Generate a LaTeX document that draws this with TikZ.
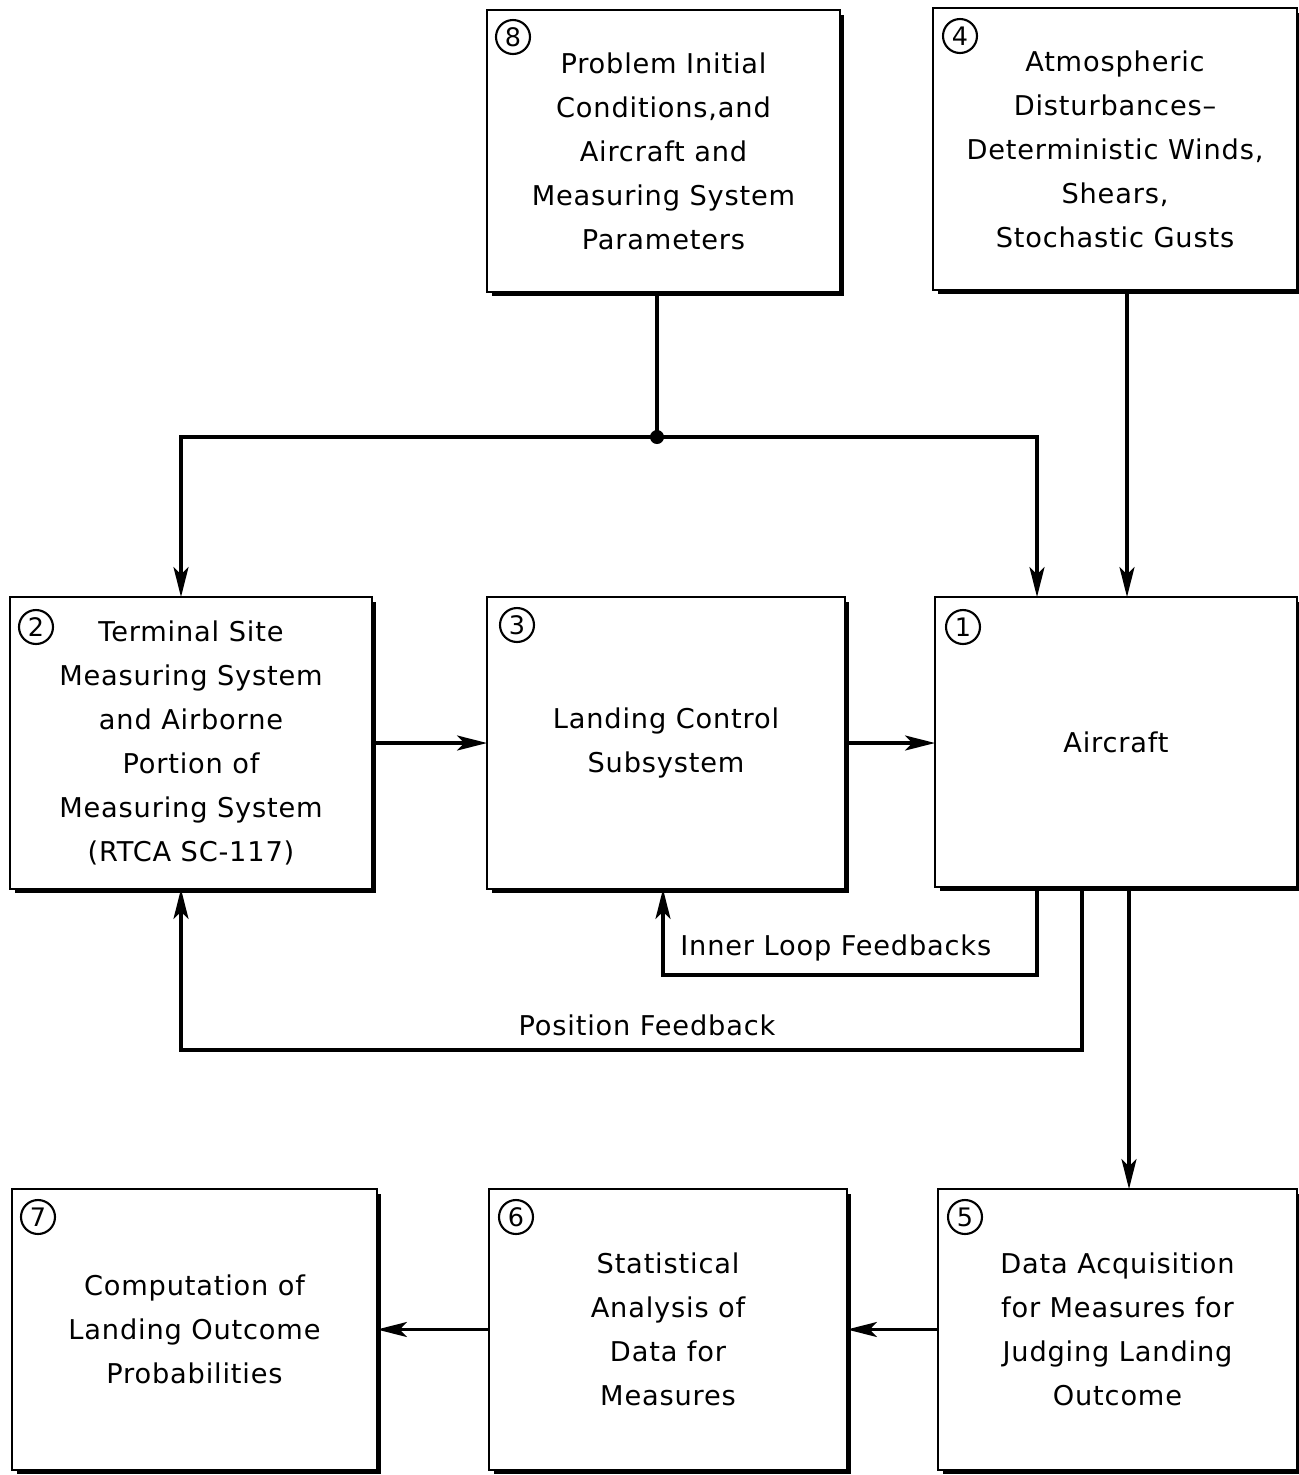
\documentclass[tikz,border=0pt]{standalone}
\usepackage{fontspec}
\setmainfont[LetterSpace=3]{DejaVu Sans}
\usetikzlibrary{arrows.meta,calc}
\begin{document}
\begin{tikzpicture}[x=0.02cm,y=-0.02cm,
  box/.style={draw,line width=1.6pt,inner sep=0pt,outer sep=0pt,align=center,
    font=\fontsize{15.5}{25}\selectfont},
  num/.style={draw,circle,line width=1.2pt,minimum size=0.68cm,inner sep=0pt,
    font=\fontsize{14.5}{14.5}\selectfont},
  lbl/.style={font=\fontsize{15.5}{25}\selectfont,inner sep=0pt},
  conn/.style={line width=1.9pt},
  arr/.style={conn,-{Stealth[length=17pt,width=8.5pt,inset=4pt]}},
  shadowline/.style={line width=1.8pt,line cap=rect}]
\useasboundingbox (0,0) rectangle (1299,1475);
\fill[white] (0,0) rectangle (1299,1475);

% boxes
\node[box,minimum width=7.06cm,minimum height=5.64cm] (b8) at (663.5,151)
  {Problem Initial\\Conditions,and\\Aircraft and\\Measuring System\\Parameters};
\node[box,minimum width=7.28cm,minimum height=5.64cm] (b4) at (1115,149)
  {Atmospheric\\Disturbances--\\Deterministic Winds,\\Shears,\\Stochastic Gusts};
\node[box,minimum width=7.24cm,minimum height=5.84cm] (b2) at (191,743)
  {Terminal Site\\Measuring System\\and Airborne\\Portion of\\Measuring System\\(RTCA SC-117)};
\node[box,minimum width=7.16cm,minimum height=5.84cm] (b3) at (666,743)
  {Landing Control\\Subsystem};
\node[box,minimum width=7.24cm,minimum height=5.80cm] (b1) at (1116,742)
  {Aircraft};
\node[box,minimum width=7.30cm,minimum height=5.62cm] (b7) at (194.5,1329.5)
  {Computation of\\Landing Outcome\\Probabilities};
\node[box,minimum width=7.16cm,minimum height=5.62cm] (b6) at (668,1329.5)
  {Statistical\\Analysis of\\Data for\\Measures};
\node[box,minimum width=7.18cm,minimum height=5.62cm] (b5) at (1117.5,1329.5)
  {Data Acquisition\\for Measures for\\Judging Landing\\Outcome};

% shadows (thicker right and bottom edges)
\foreach \n in {b1,b2,b3,b4,b5,b6,b7,b8}
  \draw[shadowline] ([shift={(1.2pt,-4pt)}]\n.north east)
    -- ([shift={(1.2pt,-1.2pt)}]\n.south east)
    -- ([shift={(4pt,-1.2pt)}]\n.south west);

% circled numbers
\node[num] (n8) at (513,37) {8};
\node[num] (n4) at (960,36) {4};
\node[num] (n2) at (36,627) {2};
\node[num] (n3) at (517,625) {3};
\node[num] (n1) at (963,627) {1};
\node[num] (n7) at (38,1217) {7};
\node[num] (n6) at (516,1217) {6};
\node[num] (n5) at (965,1217) {5};

% helper coordinates
\coordinate (j) at (657,437);
\coordinate (xa) at (181,0);
\coordinate (xb) at (663,0);
\coordinate (xc) at (1037,0);
\coordinate (xd) at (1082,0);
\coordinate (xe) at (1129,0);
\coordinate (xf) at (1127,0);
\coordinate (ya) at (0,975);
\coordinate (yb) at (0,1050);

% connectors
\draw[conn] (j |- b8.south) -- (j);
\fill (j) circle (7);
\draw[arr] (j) -| (xa |- b2.north);
\draw[arr] (j) -| (xc |- b1.north);
\draw[arr] (xf |- b4.south) -- (xf |- b1.north);
\draw[arr] (b2.east) -- (b3.west);
\draw[arr] (b3.east) -- (b3.east -| b1.west);
\draw[arr] (xc |- b1.south) -- (xc |- ya) -| (xb |- b3.south);
\draw[arr] (xd |- b1.south) -- (xd |- yb) -| (xa |- b2.south);
\draw[arr] (xe |- b1.south) -- (xe |- b5.north);
\draw[arr] (b5.west) -- (b5.west -| b6.east);
\draw[arr] (b6.west) -- (b6.west -| b7.east);

% labels
\node[lbl,anchor=west] (l1) at (680,948) {Inner Loop Feedbacks};
\node[lbl] (l2) at (647,1025) {Position Feedback};
\end{tikzpicture}
\end{document}
